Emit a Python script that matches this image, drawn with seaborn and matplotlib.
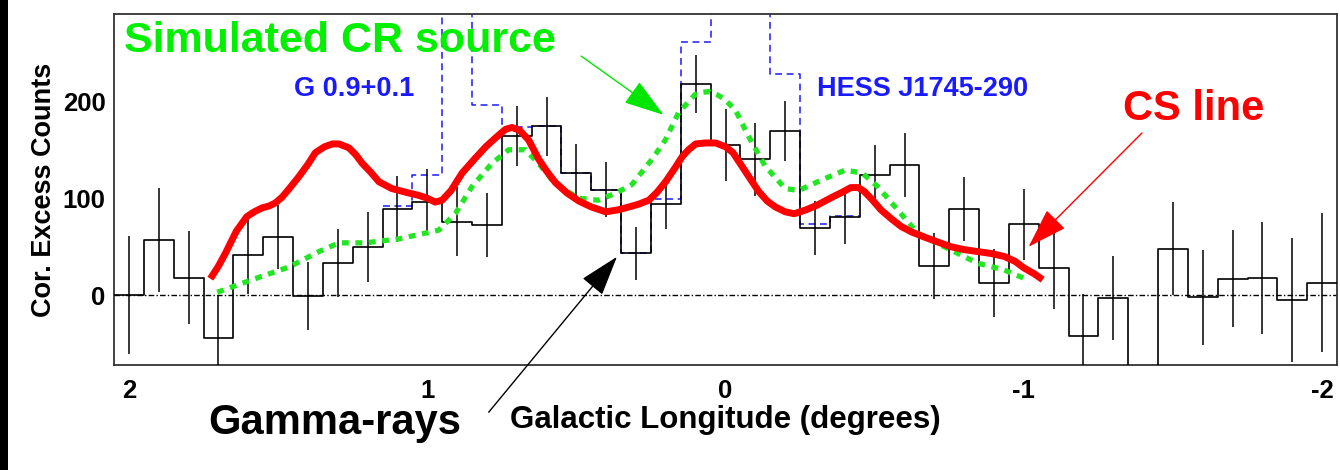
import numpy as np
import matplotlib
matplotlib.use("Agg")
import matplotlib.pyplot as plt
from matplotlib.patches import Rectangle
from matplotlib.ticker import MultipleLocator, FixedLocator
import seaborn as sns

# ---- data -------------------------------------------------------------
# Galactic-longitude bin centres (deg), 0.1 deg bins
lon = np.round(np.linspace(2.0, -2.0, 41), 2)

# corrected excess counts per bin and their 1-sigma errors
counts = [0, 57, 18, -44, 41, 60, -1, 33, 50, 89,
          96, 76, 72, 164, 174, 126, 109, 43, 94, 218,
          155, 140, 169, 69, 81, 124, 134, 30, 89, 13,
          73, 28, -42, -3, -125, 48, -2, 17, 18, -5, 13]
errors = [61, 54, 48, 44, 40, 33, 35, 35, 36, 34,
          34, 36, 33, 31, 30, 30, 28, 27, 26, 30,
          37, 38, 31, 28, 28, 31, 33, 34, 33, 35,
          37, 42, 43, 43, 45, 48, 49, 50, 58, 64, 72]

# counts including the point sources (G 0.9+0.1, HESS J1745-290)
src_lon = np.round(np.linspace(1.1, -0.4, 16), 2)
src_counts = [92, 124, 340, 196, 173, 174, 126, 109,
              43, 99, 261, 330, 330, 228, 73, 82]

# CS line emission profile (scaled)
cs_lon = [1.727, 1.700, 1.677, 1.640, 1.605, 1.580, 1.554, 1.530, 1.510, 1.487,
          1.465, 1.431, 1.400, 1.375, 1.345, 1.318, 1.296, 1.263, 1.240, 1.218,
          1.190, 1.162, 1.119, 1.070, 1.029, 1.000, 0.973, 0.950, 0.920, 0.883,
          0.840, 0.804, 0.772, 0.738, 0.716, 0.690, 0.660, 0.626, 0.600, 0.570,
          0.530, 0.491, 0.450, 0.402, 0.360, 0.324, 0.290, 0.257, 0.230, 0.201,
          0.170, 0.145, 0.124, 0.100, 0.067, 0.033, 0.000, -0.025, -0.055, -0.085,
          -0.111, -0.140, -0.167, -0.200, -0.230, -0.270, -0.308, -0.357, -0.390, -0.420,
          -0.445, -0.465, -0.490, -0.521, -0.555, -0.588, -0.625, -0.666, -0.710, -0.755,
          -0.800, -0.845, -0.890, -0.934, -0.970, -1.001, -1.035, -1.063]
cs_val = [17, 30, 43, 66, 81, 86, 90, 92, 95, 101,
          109, 122, 135, 147, 153, 156, 156, 152, 145, 136,
          127, 117, 110, 106, 103, 100, 96, 98, 108, 126,
          141, 153, 162, 171, 173, 170, 160, 140, 128, 116,
          105, 97, 91, 86, 88, 91, 94, 98, 106, 117,
          131, 143, 150, 156, 157, 157, 153, 147, 133, 119,
          107, 97, 91, 86, 84, 88, 93, 101, 106, 111,
          111, 107, 99, 88, 79, 71, 65, 60, 55, 50,
          47, 45, 43, 40, 35, 28, 22, 16]

# simulated cosmic-ray source profile
cr_lon = [1.704, 1.587, 1.464, 1.363, 1.296, 1.207, 1.096, 0.962, 0.906, 0.850,
          0.783, 0.727, 0.671, 0.627, 0.571, 0.493, 0.426, 0.370, 0.314, 0.247,
          0.202, 0.158, 0.102, 0.080, 0.057, 0.030, 0.007, -0.033, -0.077, -0.133,
          -0.200, -0.245, -0.323, -0.401, -0.458, -0.510, -0.577, -0.644, -0.733, -0.845,
          -0.934, -1.012]
cr_val = [3, 16, 29, 45, 54, 54, 58, 67, 84, 112,
          136, 150, 150, 136, 115, 100, 98, 105, 114, 140,
          160, 188, 207, 209, 210, 207, 203, 191, 164, 133,
          110, 108, 119, 129, 126, 112, 88, 64, 50, 33,
          26, 16]

x_ticks = [2, 1, 0, -1, -2]
y_ticks = [0, 100, 200]


def step_outline(centres, values, width=0.1):
    """Edges (descending longitude) and heights for a steps-post outline."""
    centres = np.asarray(centres, dtype=float)
    edges = np.append(centres + width / 2, centres[-1] - width / 2)
    heights = np.append(values, values[-1])
    return edges, heights


# ---- style ------------------------------------------------------------
sns.set_style("white")
plt.rcParams["font.family"] = ["Liberation Sans", "DejaVu Sans"]
plt.rcParams["font.weight"] = "bold"
plt.rcParams["text.color"] = "black"
plt.rcParams["axes.labelcolor"] = "black"
plt.rcParams["xtick.color"] = "black"
plt.rcParams["ytick.color"] = "black"

fig = plt.figure(figsize=(13.4, 4.7), dpi=100)
ax = fig.add_axes([0.0851, 0.2234, 0.9127, 0.7468])

# dark strip along the left edge of the figure
fig.patches.append(Rectangle((0, 0), 8 / 1340, 1, transform=fig.transFigure,
                             facecolor="black", edgecolor="none", zorder=10))

# zero level
ax.axhline(0, color="black", lw=1.0, ls=(0, (4, 1.6, 1, 1.6)), zorder=1)

# histogram including point sources (blue dashed)
sx, sy = step_outline(src_lon, src_counts)
sns.lineplot(x=sx, y=sy, estimator=None, sort=False, drawstyle="steps-post",
             color="#1a1aff", lw=1.1, ls=(0, (4.5, 3)), ax=ax, zorder=2)

# gamma-ray excess histogram with errors
hx, hy = step_outline(lon, counts)
sns.lineplot(x=hx, y=hy, estimator=None, sort=False, drawstyle="steps-post",
             color="black", lw=1.2, ax=ax, zorder=3)
ax.errorbar(lon, counts, yerr=errors, fmt="none", ecolor="black",
            elinewidth=1.1, capsize=0, zorder=3)

# CS line and simulated CR profiles
sns.lineplot(x=cs_lon, y=cs_val, estimator=None, sort=False, color="#ff0000",
             lw=5.0, solid_capstyle="butt", solid_joinstyle="round", ax=ax, zorder=5)
sns.lineplot(x=cr_lon, y=cr_val, estimator=None, sort=False, color="#22e622",
             lw=3.8, ls=(0, (1.3, 1.25)), dash_capstyle="butt", ax=ax, zorder=4)

# ---- axes -------------------------------------------------------------
ax.set_xlim(2.05, -2.05)
ax.set_ylim(-72, 290)
ax.xaxis.set_major_locator(FixedLocator(x_ticks))
ax.xaxis.set_minor_locator(MultipleLocator(0.2))
ax.yaxis.set_major_locator(FixedLocator(y_ticks))
ax.set_xticklabels([str(t) for t in x_ticks])
ax.set_yticklabels([str(t) for t in y_ticks])
ax.tick_params(axis="x", which="major", direction="in", length=10, width=1.0,
               color="#222222", labelsize=18.5, pad=10)
ax.tick_params(axis="x", which="minor", direction="in", length=5, width=1.0,
               color="#222222")
ax.tick_params(axis="y", which="major", direction="in", length=21, width=1.0,
               color="#222222", labelsize=18.5, pad=6)
ax.tick_params(top=False, right=False)
for s in ax.spines.values():
    s.set_color("#333333")
    s.set_linewidth(1.3)
    s.set_visible(True)

ax.set_xlabel("Galactic Longitude (degrees)", fontsize=22.5, fontweight="bold")
ax.set_ylabel("Cor. Excess Counts", fontsize=19.5, fontweight="bold")
ax.xaxis.set_label_coords(0.5, -0.115)
ax.yaxis.set_label_coords(-0.047, 0.5)

# ---- annotations ------------------------------------------------------
ax.text(2.015, 251, "Simulated CR source", color="#00f000", fontsize=31,
        fontweight="bold", ha="left", va="baseline")
ax.text(1.448, 205, "G 0.9+0.1", color="#1a1aff", fontsize=19.5,
        fontweight="bold", ha="left", va="baseline")
ax.text(-0.305, 205, "HESS J1745-290", color="#1a1aff", fontsize=19.5,
        fontweight="bold", ha="left", va="baseline")
ax.text(-1.334, 181, "CS line", color="#ff0000", fontsize=30,
        fontweight="bold", ha="left", va="baseline")
ax.text(1.733, -143, "Gamma-rays", color="black", fontsize=30,
        fontweight="bold", ha="left", va="baseline", clip_on=False)

head = "-|>,head_length=1.7,head_width=0.55"
ax.annotate("", xy=(0.208, 186), xytext=(0.484, 246.6),
            arrowprops=dict(arrowstyle=head, color="#00e600", lw=1.0,
                            mutation_scale=15, shrinkA=0, shrinkB=0))
ax.annotate("", xy=(0.364, 39.6), xytext=(0.794, -120.7), annotation_clip=False,
            arrowprops=dict(arrowstyle=head, color="black", lw=1.0,
                            mutation_scale=15, shrinkA=0, shrinkB=0))
ax.annotate("", xy=(-1.016, 50), xytext=(-1.396, 167.3),
            arrowprops=dict(arrowstyle=head, color="#ff0000", lw=1.0,
                            mutation_scale=15, shrinkA=0, shrinkB=0))

fig.savefig("out.png", dpi=100)
